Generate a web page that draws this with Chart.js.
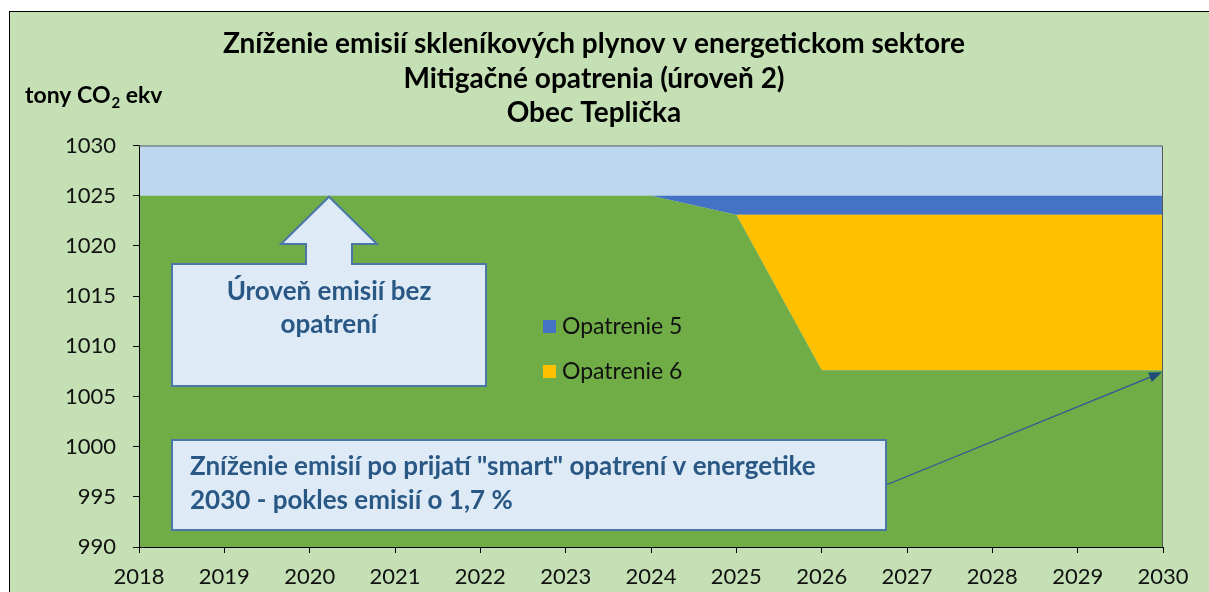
<!DOCTYPE html>
<html>
<head>
<meta charset="utf-8">
<script src="https://cdn.jsdelivr.net/npm/chart.js@4"></script>
<style>
  html, body { margin: 0; padding: 0; background: #fff; overflow: hidden; }
  #frame {
    position: absolute; left: 9px; top: 11px; width: 1300px; height: 700px;
    background: #C5E0B4; border-top: 1.5px solid #000; border-left: 1.5px solid #000;
  }
  #chart { position: absolute; left: 0; top: 0; }
</style>
</head>
<body>
<div id="frame"></div>
<canvas id="chart" width="1188" height="592"></canvas>
<script>
// Data
var years = ['2018', '2019', '2020', '2021', '2022', '2023', '2024', '2025', '2026', '2027', '2028', '2029', '2030'];
var remaining = [1025, 1025, 1025, 1025, 1025, 1025, 1025, 1023.1, 1007.6, 1007.6, 1007.6, 1007.6, 1007.6];
var opatrenie6 = [0, 0, 0, 0, 0, 0, 0, 0, 15.5, 15.5, 15.5, 15.5, 15.5];
var opatrenie5 = [0, 0, 0, 0, 0, 0, 0, 1.9, 1.9, 1.9, 1.9, 1.9, 1.9];
var yMin = 990, yMax = 1030, yStep = 5;

var titleLines = ['Zníženie emisií skleníkových plynov v energetickom sektore', 'Mitigačné opatrenia (úroveň 2)', 'Obec Teplička'];
var calloutBase = ['Úroveň emisií bez', 'opatrení'];
var calloutSmart = ['Zníženie emisií po prijatí "smart" opatrení v energetike', '2030 - pokles emisií o 1,7 %'];

var FONT = 'Lato, "Open Sans", sans-serif';
var boxFill = '#DEEBF7', boxStroke = '#4A77A8', boxText = '#2A5885';

var decorPlugin = {
    id: 'decor',
    beforeDraw: function(chart) {
        var a = chart.chartArea, ctx = chart.ctx;
        ctx.save();
        ctx.fillStyle = '#BDD7EE';
        ctx.fillRect(a.left, a.top, a.right - a.left, a.bottom - a.top);
        ctx.restore();
    },
    afterDraw: function(chart) {
        var a = chart.chartArea, ctx = chart.ctx;
        var xs = chart.scales.x, ys = chart.scales.y;
        ctx.save();

        // plot outline (top/right)
        ctx.strokeStyle = '#595959';
        ctx.lineWidth = 1;
        ctx.beginPath();
        ctx.moveTo(a.left, a.top + 0.5);
        ctx.lineTo(a.right - 0.5, a.top + 0.5);
        ctx.lineTo(a.right - 0.5, a.bottom);
        ctx.stroke();

        // y axis caption
        ctx.fillStyle = '#000';
        ctx.textBaseline = 'alphabetic';
        ctx.textAlign = 'left';
        ctx.font = 'bold 23px ' + FONT;
        var cx = 25, cy = 103;
        ctx.fillText('tony CO', cx, cy);
        cx += ctx.measureText('tony CO').width;
        ctx.font = 'bold 15px ' + FONT;
        ctx.fillText('2', cx + 1, cy + 5);
        cx += ctx.measureText('2').width + 1;
        ctx.font = 'bold 23px ' + FONT;
        ctx.fillText(' ekv', cx, cy);

        // legend
        var legend = [['Opatrenie 5', '#4472C4', 326], ['Opatrenie 6', '#FFC000', 371]];
        ctx.font = '23px ' + FONT;
        ctx.textBaseline = 'middle';
        legend.forEach(function(l) {
            ctx.fillStyle = l[1];
            ctx.fillRect(543, l[2] - 6, 13, 13);
            ctx.fillStyle = '#111';
            ctx.fillText(l[0], 562, l[2] + 1);
        });

        // callout with up arrow
        var tipX = 329, tipY = ys.getPixelForValue(remaining[0]) + 1;
        ctx.beginPath();
        ctx.moveTo(172, 386);
        ctx.lineTo(172, 264);
        ctx.lineTo(306, 264);
        ctx.lineTo(306, 244);
        ctx.lineTo(281, 244);
        ctx.lineTo(tipX, tipY);
        ctx.lineTo(377, 244);
        ctx.lineTo(352, 244);
        ctx.lineTo(352, 264);
        ctx.lineTo(486, 264);
        ctx.lineTo(486, 386);
        ctx.closePath();
        ctx.fillStyle = boxFill;
        ctx.fill();
        ctx.strokeStyle = boxStroke;
        ctx.lineWidth = 2;
        ctx.stroke();
        ctx.fillStyle = boxText;
        ctx.font = 'bold 26px ' + FONT;
        ctx.textAlign = 'center';
        ctx.fillText(calloutBase[0], tipX, 292);
        ctx.fillText(calloutBase[1], tipX, 325);

        // arrow to 2030 level
        var last = years.length - 1;
        var endX = xs.getPixelForValue(last) - 1;
        var endY = ys.getPixelForValue(remaining[last]) + 2;
        var startX = 886, startY = 485;
        var ang = Math.atan2(endY - startY, endX - startX);
        ctx.strokeStyle = '#2F5597';
        ctx.lineWidth = 1.2;
        ctx.beginPath();
        ctx.moveTo(startX, startY);
        ctx.lineTo(endX - 10 * Math.cos(ang), endY - 10 * Math.sin(ang));
        ctx.stroke();
        ctx.fillStyle = '#1F4E79';
        ctx.beginPath();
        ctx.moveTo(endX, endY);
        ctx.lineTo(endX - 13 * Math.cos(ang) + 5 * Math.sin(ang), endY - 13 * Math.sin(ang) - 5 * Math.cos(ang));
        ctx.lineTo(endX - 13 * Math.cos(ang) - 5 * Math.sin(ang), endY - 13 * Math.sin(ang) + 5 * Math.cos(ang));
        ctx.closePath();
        ctx.fill();

        // smart measures box
        ctx.fillStyle = boxFill;
        ctx.fillRect(172, 440, 714, 90);
        ctx.strokeStyle = boxStroke;
        ctx.lineWidth = 2;
        ctx.strokeRect(172, 440, 714, 90);
        ctx.fillStyle = boxText;
        ctx.font = 'bold 26px ' + FONT;
        ctx.textAlign = 'left';
        ctx.fillText(calloutSmart[0], 190, 467);
        ctx.fillText(calloutSmart[1], 190, 501);

        ctx.restore();
    }
};

var ctx = document.getElementById('chart');
new Chart(ctx, {
    type: 'line',
    data: {
        labels: years,
        datasets: [{
            label: 'Emisie',
            data: remaining,
            backgroundColor: '#70AD47',
            borderWidth: 0,
            pointRadius: 0,
            fill: 'start'
        }, {
            label: 'Opatrenie 6',
            data: opatrenie6,
            backgroundColor: '#FFC000',
            borderWidth: 0,
            pointRadius: 0,
            fill: '-1'
        }, {
            label: 'Opatrenie 5',
            data: opatrenie5,
            backgroundColor: '#4472C4',
            borderWidth: 0,
            pointRadius: 0,
            fill: '-1'
        }]
    },
    options: {
        responsive: false,
        animation: false,
        devicePixelRatio: 1,
        layout: { padding: 0 },
        plugins: {
            legend: { display: false },
            tooltip: { enabled: false },
            title: {
                display: true,
                text: titleLines,
                color: '#000',
                font: { family: FONT, size: 28, weight: 'bold', lineHeight: 1.232 },
                padding: { top: 27, bottom: 15 }
            }
        },
        scales: {
            x: {
                offset: false,
                grid: { drawOnChartArea: false, tickLength: 6, color: '#000' },
                border: { color: '#000', width: 1, z: 1 },
                ticks: { color: '#111', padding: 11, maxRotation: 0, font: { family: FONT, size: 22 } },
                afterFit: function(scale) {
                    scale.height = 45;
                    scale.paddingLeft = 0;
                    scale.paddingRight = 25;
                }
            },
            y: {
                stacked: true,
                min: yMin,
                max: yMax,
                grid: { drawOnChartArea: false, tickLength: 6, color: '#000' },
                border: { color: '#000', width: 1, z: 1 },
                ticks: {
                    stepSize: yStep, color: '#111', padding: 17, font: { family: FONT, size: 22 },
                    callback: function(v) { return String(v); }
                },
                afterFit: function(scale) { scale.width = 139; }
            }
        }
    },
    plugins: [decorPlugin]
});
</script>
</body>
</html>
